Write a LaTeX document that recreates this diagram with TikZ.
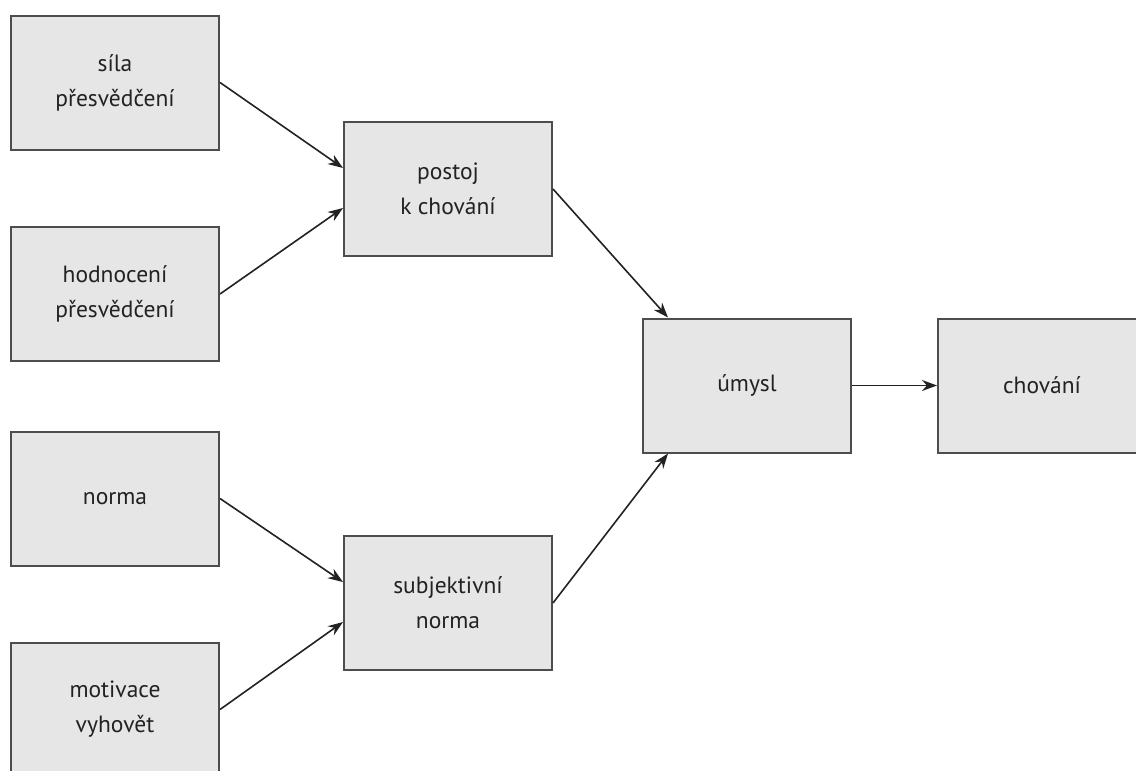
\documentclass[tikz,border=0pt]{standalone}
\usepackage{fontspec}
\setmainfont{PT Sans}
\usetikzlibrary{arrows.meta}
\definecolor{boxfill}{HTML}{E6E6E6}
\definecolor{boxline}{HTML}{4D4D4D}
\definecolor{ink}{HTML}{222222}
\begin{document}
\begin{tikzpicture}[x=1pt,y=-1pt,
  box/.style={draw=boxline, line width=2pt, fill=boxfill, minimum width=208pt, minimum height=134pt,
    inner sep=0pt, align=center, font=\fontsize{23.5}{35}\selectfont, text=ink},
  arr/.style={-{Stealth[length=15pt,width=11pt]}, line width=1.6pt, draw=ink}]
\useasboundingbox (0,0) rectangle (1136,771);
\fill[white] (0,0) rectangle (1136,771);
\clip (0,0) rectangle (1136,771);
\node[box] (sila) at (115,82.5) {síla\\přesvědčení};
\node[box] (hodn) at (115,294) {hodnocení\\přesvědčení};
\node[box] (norma) at (115,498.5) {norma};
\node[box] (motiv) at (115,709.5) {motivace\\vyhovět};
\node[box] (postoj) at (448,189) {postoj\\k chování};
\node[box] (subj) at (448,603) {subjektivní\\norma};
\node[box] (umysl) at (747,385.5) {úmysl};
\node[box] (chov) at (1042,385.5) {chování};
\draw[arr] (sila.east) -- ([yshift=21pt]postoj.west);
\draw[arr] (hodn.east) -- ([yshift=-19pt]postoj.west);
\draw[arr] (norma.east) -- ([yshift=21pt]subj.west);
\draw[arr] (motiv.east) -- ([yshift=-19pt]subj.west);
\draw[arr] (postoj.east) -- ([xshift=-79pt]umysl.north);
\draw[arr] (subj.east) -- ([xshift=-79pt]umysl.south);
\draw[arr] (umysl.east) -- (chov.west);
\end{tikzpicture}
\end{document}
